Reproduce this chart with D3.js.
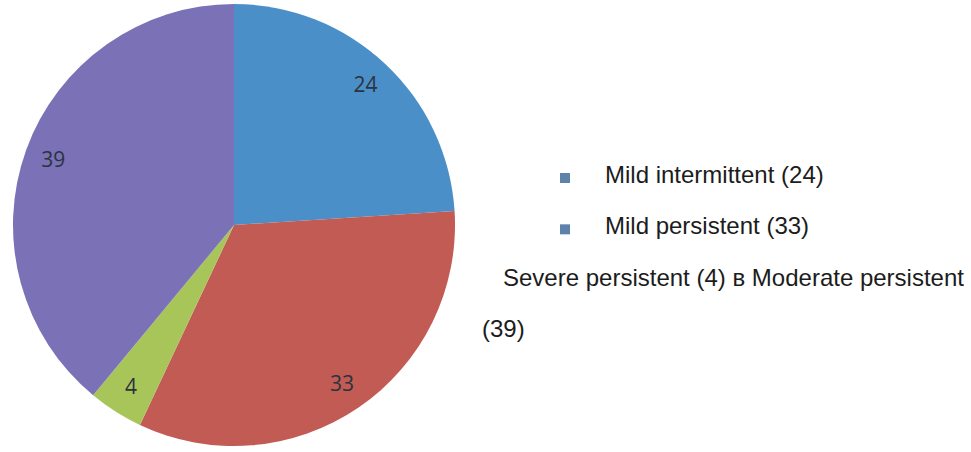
<!DOCTYPE html>
<html>
<head>
<meta charset="utf-8">
<script src="https://cdn.jsdelivr.net/npm/d3@7"></script>
<style>
  body { margin: 0; background: #fff; }
  svg { display: block; }
</style>
</head>
<body>
<div class="chart-container"></div>
<script>
// data
const categories = ["Mild intermittent", "Mild persistent", "Severe persistent", "Moderate persistent"];
const values = [24, 33, 4, 39];
const sliceColors = ["#4b8fc9", "#c25b54", "#a8c55a", "#7a71b7"];
const legendLines = ["Mild intermittent (24)", "Mild persistent (33)", "Severe persistent (4) в Moderate persistent", "(39)"];
const legendHasSquare = [true, true, false, false];

const width = 971;
const height = 452;
const cx = 234, cy = 225, radius = 221;

const svg = d3.select('.chart-container').append("svg")
    .attr("width", width)
    .attr("height", height);

const slices = categories.map((c, i) => ({ name: c, value: values[i] }));

const pie = d3.pie()
    .sort(null)
    .value(d => d.value);

const arc = d3.arc().innerRadius(0).outerRadius(radius);
const labelArc = d3.arc().innerRadius(192).outerRadius(192);

const color = d3.scaleOrdinal().domain(categories).range(sliceColors);

const g = svg.append('g').attr('transform', `translate(${cx},${cy})`);

g.selectAll('path')
    .data(pie(slices))
    .enter()
    .append('path')
    .attr('d', arc)
    .attr('fill', d => color(d.data.name));

g.selectAll('text')
    .data(pie(slices))
    .enter()
    .append('text')
    .attr('transform', d => `translate(${labelArc.centroid(d)})`)
    .attr('text-anchor', 'middle')
    .attr('dy', '0.35em')
    .style('font-family', '"Open Sans", "Liberation Sans", sans-serif')
    .style('font-size', '21px')
    .attr('fill', '#2b3340')
    .text(d => d.data.value);

// legend (as it appears in the source, partly run together)
const legend = svg.append('g').attr('id', 'legend');
const rowY = d3.scalePoint().domain(d3.range(legendLines.length)).range([183, 337]);
const rowX = [605, 605, 503, 482];

legend.selectAll('rect')
    .data(d3.range(legendLines.length).filter(i => legendHasSquare[i]))
    .enter()
    .append('rect')
    .attr('x', 560)
    .attr('y', i => rowY(i) - 10)
    .attr('width', 10)
    .attr('height', 10)
    .attr('fill', '#5f82aa');

legend.selectAll('text')
    .data(legendLines)
    .enter()
    .append('text')
    .attr('x', (d, i) => rowX[i])
    .attr('y', (d, i) => rowY(i))
    .style('font-family', '"Liberation Sans", Arial, sans-serif')
    .style('font-size', '24px')
    .attr('fill', '#1c1c1c')
    .text(d => d);
</script>
</body>
</html>
